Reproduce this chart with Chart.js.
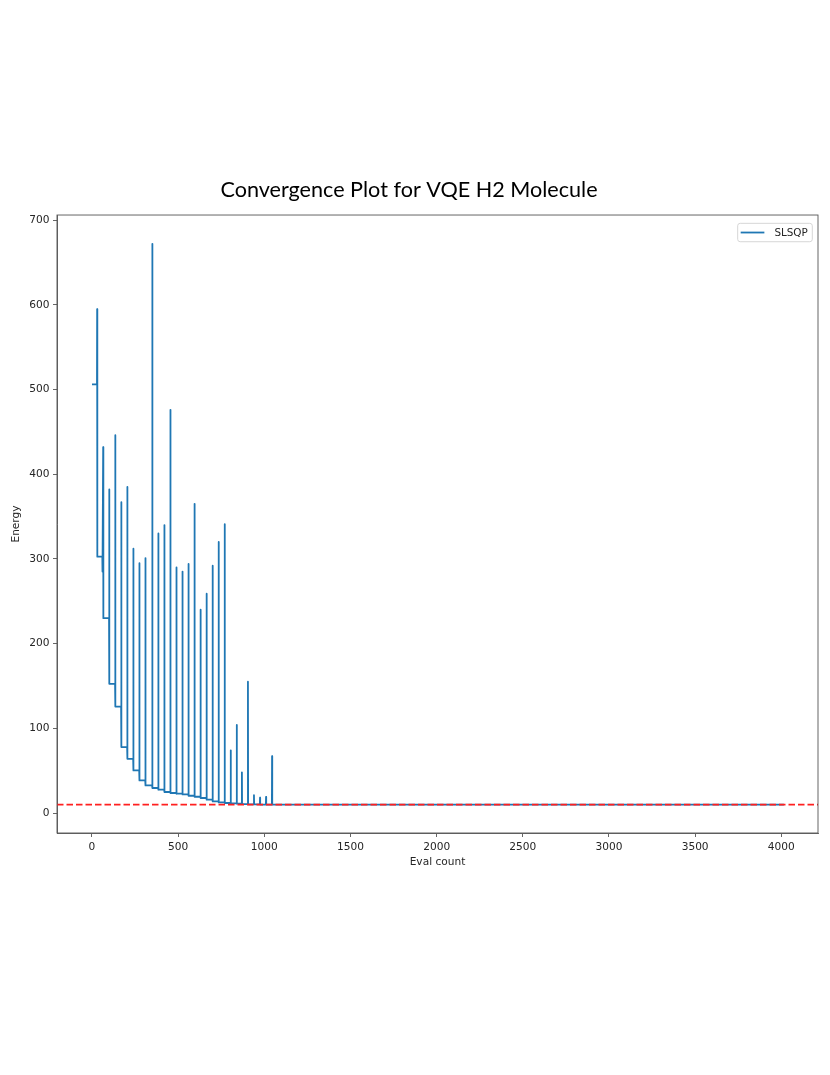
<!DOCTYPE html>
<html>
<head>
<meta charset="utf-8">
<script src="https://cdn.jsdelivr.net/npm/chart.js@4.4.1/dist/chart.umd.min.js"></script>
<style>
  html, body { margin: 0; padding: 0; background: #ffffff; }
  #wrap { position: absolute; left: 0; top: 0; width: 830px; height: 1075px; }
  canvas { display: block; }
</style>
</head>
<body>
<div id="wrap"><canvas id="chart" width="830" height="1075" style="width:830px;height:1075px"></canvas></div>
<script>
// ---- chart text ----
const titleText = 'Convergence Plot for VQE H2 Molecule';
const seriesLabel = 'SLSQP';
const xAxisLabel = 'Eval count';
const yAxisLabel = 'Energy';

// ---- tick labels ----
const xTicks = [0, 500, 1000, 1500, 2000, 2500, 3000, 3500, 4000];
const yTicks = [0, 100, 200, 300, 400, 500, 600, 700];

// ---- series values ----
const startEval = 0;
const endEval = 4015;
// eval count at which each line-search spike occurs
const spikeEval = [30, 65, 100, 135, 170, 205, 240, 275, 310, 350,
                   385, 420, 455, 490, 525, 560, 595, 630, 665, 700,
                   735, 770, 805, 840, 870, 905, 940, 975, 1010, 1045];
// energy at the top of each spike
const spikeEnergy = [595, 432, 382, 446, 367, 385, 312, 295, 301, 672,
                     330, 340, 476, 290, 285, 294, 365, 240, 259, 292,
                     320, 341, 74, 104, 48, 155, 21, 18, 19, 67];
// energy of the flat plateau before the first spike and after each spike
const plateauEnergy = [506, 302.6, 230, 152.5, 125.7, 77.8, 64, 50.3, 38.5, 32.6,
                       29.5, 27.5, 24.8, 23.6, 22.8, 22, 20.4, 19.2, 17.7, 15.7,
                       13.7, 12.5, 11.8, 11.3, 11, 10.6, 10.3, 10.1, 10, 10, 10];
// small dip seen just before one spike
const dipSpikeIndex = [1];
const dipEnergy = [285];
// reference (exact) energy shown as the red dashed line
const referenceEnergy = 10;

// ---- axis ranges ----
const xMin = -203, xMax = 4213;
const yMin = -23.6, yMax = 706;

// ---- build line points from the arrays ----
const slsqpPoints = [{ x: startEval, y: plateauEnergy[0] }];
spikeEval.forEach((e, i) => {
  const d = dipSpikeIndex.indexOf(i);
  if (d >= 0) {
    slsqpPoints.push({ x: e - 5, y: plateauEnergy[i] });
    slsqpPoints.push({ x: e - 4, y: dipEnergy[d] });
  } else {
    slsqpPoints.push({ x: e - 1, y: plateauEnergy[i] });
  }
  slsqpPoints.push({ x: e, y: spikeEnergy[i] });
  slsqpPoints.push({ x: e + 1, y: plateauEnergy[i + 1] });
});
slsqpPoints.push({ x: endEval, y: plateauEnergy[plateauEnergy.length - 1] });

const referencePoints = [{ x: xMin, y: referenceEnergy }, { x: xMax, y: referenceEnergy }];

const tickFont = { family: '"DejaVu Sans", sans-serif', size: 10.6 };
const textColor = '#262626';
const spineColor = '#555555';

const framePlugin = {
  id: 'frame',
  afterDraw(chart) {
    const { ctx, chartArea: a } = chart;
    ctx.save();
    ctx.strokeStyle = spineColor;
    ctx.lineWidth = 0.9;
    ctx.strokeRect(a.left, a.top, a.right - a.left, a.bottom - a.top);
    ctx.restore();
  }
};

const legendPlugin = {
  id: 'mplLegend',
  afterDraw(chart) {
    const { ctx, chartArea: a } = chart;
    const ds = chart.data.datasets.find(d => d.label === seriesLabel);
    ctx.save();
    ctx.font = '10.4px ' + tickFont.family;
    const tw = ctx.measureText(ds.label).width;
    const h = 18.4;
    const w = 3 + 23.7 + 10 + tw + 4.5;
    const x1 = a.right - 5.7 - w;
    const y1 = a.top + 8.3;
    ctx.beginPath();
    ctx.roundRect(x1, y1, w, h, 2.5);
    ctx.fillStyle = 'rgba(255,255,255,0.8)';
    ctx.fill();
    ctx.strokeStyle = '#d6d6d6';
    ctx.lineWidth = 1;
    ctx.stroke();
    ctx.beginPath();
    ctx.moveTo(x1 + 3, y1 + h / 2);
    ctx.lineTo(x1 + 26.7, y1 + h / 2);
    ctx.strokeStyle = ds.borderColor;
    ctx.lineWidth = ds.borderWidth;
    ctx.stroke();
    ctx.fillStyle = textColor;
    ctx.textBaseline = 'middle';
    ctx.textAlign = 'left';
    ctx.fillText(ds.label, x1 + 36.7, y1 + h / 2 + 0.5);
    ctx.restore();
  }
};

const plainTick = v => String(v);

new Chart(document.getElementById('chart').getContext('2d'), {
  type: 'scatter',
  data: {
    datasets: [
      {
        label: 'reference',
        data: referencePoints,
        showLine: true,
        borderColor: '#ff2020',
        borderWidth: 1.7,
        borderDash: [6.5, 3],
        pointRadius: 0,
        pointHoverRadius: 0,
        order: 0
      },
      {
        label: seriesLabel,
        data: slsqpPoints,
        showLine: true,
        borderColor: '#1f77b4',
        borderWidth: 1.8,
        borderJoinStyle: 'round',
        pointRadius: 0,
        pointHoverRadius: 0,
        tension: 0,
        order: 1
      }
    ]
  },
  options: {
    responsive: false,
    animation: false,
    layout: { padding: { left: 0, right: 12, top: 176.6, bottom: 206 } },
    plugins: {
      legend: { display: false },
      tooltip: { enabled: false },
      title: {
        display: true,
        text: titleText,
        color: '#000000',
        font: { family: 'Lato, "Open Sans", sans-serif', size: 21.6, weight: 'normal', lineHeight: 1.2 },
        padding: { top: 0, bottom: 12.5 }
      }
    },
    scales: {
      x: {
        type: 'linear',
        min: xMin,
        max: xMax,
        afterBuildTicks: s => { s.ticks = xTicks.map(v => ({ value: v })); },
        afterFit: s => { s.height = 36; },
        ticks: { font: tickFont, color: textColor, padding: 4, maxRotation: 0, autoSkip: false, callback: plainTick },
        grid: { drawOnChartArea: false, drawTicks: true, tickLength: 4, color: spineColor, lineWidth: 0.9 },
        border: { display: true, color: spineColor, width: 0.9 },
        title: { display: true, text: xAxisLabel, color: textColor, font: tickFont, padding: { top: 0, bottom: 0 } }
      },
      y: {
        type: 'linear',
        min: yMin,
        max: yMax,
        afterBuildTicks: s => { s.ticks = yTicks.map(v => ({ value: v })); },
        afterFit: s => { s.width = 57; },
        ticks: { font: tickFont, color: textColor, padding: 3.5, autoSkip: false, callback: plainTick },
        grid: { drawOnChartArea: false, drawTicks: true, tickLength: 4, color: spineColor, lineWidth: 0.9 },
        border: { display: true, color: spineColor, width: 0.9 },
        title: { display: true, text: yAxisLabel, color: textColor, font: tickFont, padding: { top: 10, bottom: 0 } }
      }
    }
  },
  plugins: [framePlugin, legendPlugin]
});
</script>
</body>
</html>
